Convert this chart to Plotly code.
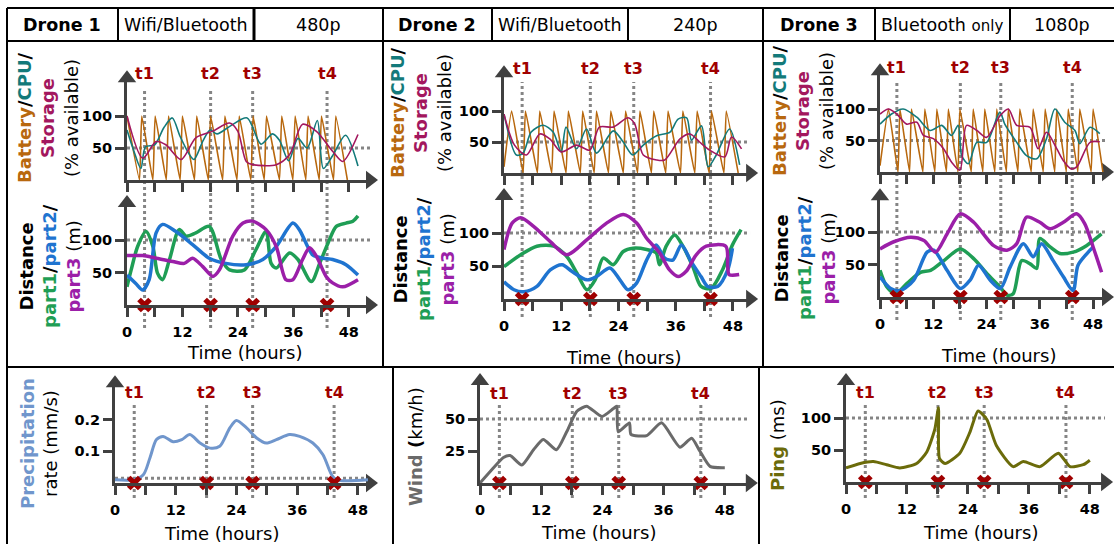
import plotly.graph_objects as go

W, H = 1114, 544
FONT = "DejaVu Sans"
AX = "#404040"
RED = "#a00000"
GRID = "#858585"
C_BAT = "#b8680e"
C_CPU = "#137a7a"
C_STO = "#a3175e"
C_P1 = "#1f9e55"
C_P2 = "#1f74d0"
C_P3 = "#9b1fa8"
C_PRE = "#7096cc"
C_WIND = "#6a6a6a"
C_PING = "#6b6b0a"

# ---------------- data ----------------
EVENT_T = [3.8, 18.1, 27.2, 43.3]
EVENT_LABELS = ["t1", "t2", "t3", "t4"]
HOUR_TICKS = [0, 6, 12, 18, 24, 30, 36, 42, 48]
HOUR_LABELS = ["0", "", "12", "", "24", "", "36", "", "48"]

# Battery sawtooth (hours, % available)
D1_BAT_T = [0, 2.7, 3.2, 5.6, 6.1, 8.5, 9.0, 11.5, 12.0, 14.6, 15.1, 17.6, 18.1, 20.7, 21.2, 23.8, 24.3,
            26.8, 27.3, 29.7, 30.2, 33.0, 33.5, 35.9, 36.4, 38.7, 39.2, 41.6, 42.1, 44.7, 45.2, 47.7]
D1_BAT = [100, 0, 100, 0, 100, 0, 100, 0, 100, 0, 100, 0, 100, 0, 100, 0, 100,
          0, 100, 0, 100, 0, 100, 0, 100, 0, 100, 0, 100, 0, 100, 0]
D2_BAT_T = [0, 1.6, 4.0, 4.5, 7.0, 7.5, 10.0, 10.5, 13.0, 13.5, 16.0, 16.5, 18.9, 19.4, 21.9, 22.4, 25.0, 25.5,
            28.0, 28.5, 30.9, 31.4, 33.9, 34.4, 37.0, 37.5, 40.0, 40.5, 43.0, 43.5, 46.1, 46.6, 49.1]
D2_BAT = [10, 100, 0, 100, 0, 100, 0, 100, 0, 100, 0, 100, 0, 100, 0, 100, 0, 100,
          0, 100, 0, 100, 0, 100, 0, 100, 0, 100, 0, 100, 0, 100, 0]
D3_BAT_T = [0, 1.9, 4.05, 4.5, 6.65, 7.1, 9.65, 10.1, 12.35, 12.8, 14.95, 15.4, 17.55, 18.0, 20.55, 21.0,
            23.15, 23.6, 25.85, 26.3, 28.45, 28.9, 31.05, 31.5, 34.05, 34.5, 36.75, 37.2, 39.35, 39.8,
            41.95, 42.4, 44.55, 45.0, 47.55, 48.0, 50.2]
D3_BAT = [10, 100, 0, 100, 0, 100, 0, 100, 0, 100, 0, 100, 0, 100, 0, 100,
          0, 100, 0, 100, 0, 100, 0, 100, 0, 100, 0, 100, 0, 100,
          0, 100, 0, 100, 0, 100, 0]

D1_CPU_T = [0, 1.5, 3.0, 4.0, 6.0, 8.0, 9.8, 11.5, 13.5, 14.5, 16.5, 18.0, 19.5, 22.5, 26.0, 29.0, 31.5,
            33.0, 35.0, 37.0, 39.0, 41.2, 42.5, 44.5, 47.3, 50.0]
D1_CPU = [78, 45, 18, 52, 55, 82, 97, 68, 40, 32, 62, 78, 72, 85, 97, 56, 72, 62, 30, 65, 50, 93, 18, 38, 70, 22]
D1_STO_T = [0, 3.4, 6.3, 8.4, 11.7, 14.9, 18.5, 22.2, 24.0, 25.8, 27.2, 32.3, 35.2, 38.0, 41.0, 44.5, 46.7, 50.0]
D1_STO = [100, 34, 60, 55, 32, 66, 76, 89, 76, 29, 24, 24, 40, 87, 76, 45, 29, 71]

D2_CPU_T = [0, 2.6, 4.0, 5.7, 8.2, 10.3, 12.0, 13.0, 15.2, 17.3, 19.4, 22.9, 25.0, 27.0, 29.2, 32.0, 34.8,
            36.5, 38.3, 39.3, 41.4, 42.8, 44.5, 47.3, 49.4]
D2_CPU = [95, 29, 32, 66, 77, 66, 34, 74, 39, 71, 32, 68, 50, 29, 45, 60, 66, 87, 89, 53, 76, 10, 29, 71, 13]
D2_STO_T = [0, 2.2, 4.7, 7.5, 9.6, 12.0, 15.2, 18.0, 20.0, 22.9, 26.0, 27.4, 29.2, 32.0, 33.7, 36.9, 39.0,
            41.0, 43.1, 46.3, 47.7, 49.8]
D2_STO = [95, 45, 29, 63, 55, 34, 45, 37, 74, 74, 89, 79, 29, 21, 21, 55, 63, 50, 37, 26, 58, 39]

D3_CPU_T = [0, 2.6, 5.2, 8.3, 11.3, 13.9, 16.1, 17.6, 18.4, 19.9, 21.8, 24.0, 27.0, 28.1, 30.8, 33.0, 35.3,
            37.5, 39.4, 41.6, 43.9, 45.0, 47.3, 49.5]
D3_CPU = [76, 92, 100, 87, 66, 74, 58, 74, 26, 13, 47, 47, 95, 76, 47, 26, 21, 53, 100, 79, 66, 45, 71, 61]
D3_STO_T = [0, 1.9, 3.8, 6.0, 8.3, 9.8, 12.0, 14.3, 16.1, 18.0, 19.5, 21.8, 24.0, 27.0, 28.9, 30.8, 33.8,
            35.6, 37.5, 39.8, 41.3, 43.1, 44.3, 47.3, 49.5]
D3_STO = [92, 100, 92, 76, 79, 58, 53, 37, 16, 3, 74, 66, 55, 89, 100, 74, 71, 37, 63, 37, 18, 5, 8, 47, 48]

# Distances (m)
D1_P1_T = [0, 0.9, 2.3, 4.1, 5.6, 6.6, 7.7, 9.2, 11.3, 12.8, 14.9, 17.8, 20.4, 22.2, 25.4, 27.9, 30.1, 31.2,
           32.3, 35.2, 37.0, 39.9, 41.7, 43.5, 45.3, 47.4, 48.9, 50.0]
D1_P1 = [28, 54, 90, 113, 90, 49, 39, 70, 116, 106, 111, 121, 70, 54, 54, 85, 113, 64, 57, 80, 70, 36, 64,
         95, 121, 126, 129, 137]
D1_P2_T = [0, 1.9, 3.4, 4.8, 6.3, 7.7, 10.6, 14.2, 17.8, 21.4, 25.8, 29.4, 32.3, 35.9, 37.3, 40.2, 42.4,
           44.5, 47.4, 50.0]
D1_P2 = [46, 33, 23, 39, 111, 124, 113, 93, 72, 64, 62, 70, 90, 126, 116, 77, 72, 70, 62, 46]
D1_P3_T = [0, 3.4, 6.3, 9.9, 12.4, 14.2, 16.4, 18.6, 20.0, 22.9, 25.1, 27.2, 30.1, 32.3, 34.4, 35.9, 38.0,
           39.5, 41.0, 43.1, 44.5, 46.7, 50.0]
D1_P3 = [76, 76, 72, 67, 64, 72, 59, 44, 54, 106, 126, 129, 116, 90, 39, 39, 70, 88, 75, 44, 34, 28, 39]

D2_P1_T = [0, 3.5, 6.9, 10.4, 13.2, 15.3, 17.4, 19.1, 20.8, 22.9, 25.0, 27.1, 29.9, 31.9, 32.6, 34.0, 35.8,
           37.5, 39.6, 41.3, 43.4, 45.8, 47.9, 49.7]
D2_P1 = [49, 67, 80, 80, 64, 39, 14, 29, 62, 52, 72, 77, 75, 70, 52, 80, 97, 80, 49, 19, 16, 44, 82, 105]
D2_P2_T = [0, 2.1, 4.2, 6.9, 9.7, 12.2, 14.2, 17.4, 19.4, 22.2, 24.3, 26.0, 27.8, 29.9, 31.9, 33.7, 35.4,
           37.2, 39.2, 41.3, 42.7, 44.8, 46.9, 47.9]
D2_P2 = [26, 14, 11, 19, 44, 52, 42, 29, 34, 47, 29, 14, 24, 59, 82, 62, 59, 82, 57, 34, 19, 19, 44, 77]
D2_P3_T = [0, 1.7, 3.5, 6.2, 9.7, 13.2, 17.4, 21.5, 25.0, 27.8, 29.9, 32.6, 34.7, 36.5, 38.2, 40.3, 42.4,
           46.5, 46.9, 47.2, 49.3]
D2_P3 = [75, 115, 123, 110, 87, 67, 90, 115, 128, 115, 92, 70, 44, 34, 42, 67, 80, 80, 49, 37, 37]

D3_P1_T = [0, 1.6, 3.5, 6.1, 9.1, 11.4, 14.4, 18.1, 21.1, 24.1, 27.1, 28.6, 30.0, 31.9, 33.8, 35.3, 36.0,
           38.3, 40.5, 43.5, 46.5, 49.9]
D3_P1 = [41, 15, 5, 21, 38, 41, 56, 74, 59, 36, 15, 3, 5, 56, 51, 44, 90, 77, 67, 69, 79, 97]
D3_P2_T = [0, 2.4, 4.6, 7.6, 10.6, 12.1, 15.1, 18.1, 20.3, 22.2, 24.8, 27.1, 29.3, 32.3, 34.5, 36.4, 39.0,
           41.3, 43.5, 44.6, 47.3, 48.0]
D3_P2 = [31, 13, 10, 26, 69, 72, 41, 13, 26, 49, 26, 13, 46, 82, 62, 82, 56, 31, 10, 49, 72, 77]
D3_P3_T = [0, 3.1, 6.9, 9.9, 12.5, 15.1, 18.1, 21.1, 25.6, 28.6, 30.8, 33.0, 36.0, 38.3, 41.3, 44.3, 46.1,
           48.0, 49.9]
D3_P3 = [74, 85, 92, 87, 69, 97, 128, 115, 79, 72, 82, 123, 115, 105, 115, 128, 113, 77, 38]

# Environment
PRE_T = [0, 3.6, 5.6, 6.9, 8.2, 9.5, 11.5, 13.2, 14.8, 16.8, 18.8, 20.7, 22.7, 24.0, 26.0, 28.0, 29.9,
         31.9, 34.5, 36.5, 39.1, 41.1, 42.8, 43.8, 50.0]
PRE = [0.01, 0.01, 0.026, 0.079, 0.137, 0.147, 0.13, 0.137, 0.153, 0.126, 0.11, 0.116, 0.174, 0.197,
       0.174, 0.142, 0.126, 0.137, 0.153, 0.147, 0.126, 0.089, 0.026, 0.01, 0.01]
PRE_REF = 0.015
WIND_T = [0, 2.0, 4.6, 5.9, 8.2, 10.5, 12.4, 15.0, 17.0, 19.0, 20.9, 23.9, 26.1, 26.8, 27.1, 29.3, 29.6,
          32.7, 35.6, 39.2, 41.5, 43.1, 45.1, 48.0]
WIND = [0, 9, 20, 21.5, 14, 26, 34, 26, 40, 56, 60, 52, 58, 60, 40, 47, 38, 37, 47, 28, 35, 25, 13, 12]
PING_T = [0, 2.8, 5.4, 8.0, 10.6, 13.9, 15.9, 17.5, 18.2, 18.4, 19.5, 22.4, 24.4, 26.0, 27.7, 29.6, 32.9,
          34.9, 38.2, 41.8, 44.1, 46.7, 48.0]
PING = [22, 29, 32, 27, 22, 29, 47, 83, 116, 37, 29, 45, 78, 111, 98, 57, 24, 32, 24, 45, 24, 27, 34]


# ---------------- helpers ----------------
def px(x):
    return x / W


def py(y):
    return 1 - y / H


fig = go.Figure()
layout = dict(template="none", width=W, height=H, margin=dict(l=0, r=0, t=0, b=0, autoexpand=False),
              paper_bgcolor="white", plot_bgcolor="rgba(0,0,0,0)", showlegend=False, hovermode=False,
              font=dict(family=FONT, color="black"))
shapes = []
annotations = []


def sfx(i):
    return "" if i == 1 else str(i)


def make_axes(i, g, ytv, ytt, xlabels):
    s = sfx(i)
    xl, xr = g["x0"], g["x0"] + g["xmax"] * g["pxh"]
    yb, yt = g["y0"], g["y0"] - g["ymax"] * g["pxu"]
    common = dict(showline=True, linecolor=AX, linewidth=3, ticks="outside", ticklen=9, tickwidth=3,
                  tickcolor=AX, showgrid=False, zeroline=False, fixedrange=True, automargin=False,
                  tickfont=dict(family=FONT, size=14.5, color="black", weight="bold"))
    layout["xaxis" + s] = dict(domain=[px(xl), px(xr)], anchor="y" + s, range=[0, g["xmax"]],
                               tickvals=HOUR_TICKS, ticklabelstandoff=3,
                               ticktext=HOUR_LABELS if xlabels else [""] * len(HOUR_TICKS), **common)
    layout["yaxis" + s] = dict(domain=[py(yb), py(yt)], anchor="x" + s, range=[0, g["ymax"]],
                               tickvals=ytv, ticktext=ytt, **common)
    # arrow heads
    fig.add_trace(go.Scatter(x=[g["xmax"]], y=[0], mode="markers", cliponaxis=False, hoverinfo="skip",
                             marker=dict(symbol="triangle-right", size=16, color=AX),
                             xaxis="x" + s, yaxis="y" + s))
    fig.add_trace(go.Scatter(x=[0], y=[g["ymax"]], mode="markers", cliponaxis=False, hoverinfo="skip",
                             marker=dict(symbol="triangle-up", size=16, color=AX),
                             xaxis="x" + s, yaxis="y" + s))


def line(i, xs, ys, color, width, smoothing=0.8, shape="spline"):
    s = sfx(i)
    fig.add_trace(go.Scatter(x=xs, y=ys, mode="lines", hoverinfo="skip",
                             line=dict(color=color, width=width, shape=shape,
                                       smoothing=smoothing if shape == "spline" else None),
                             xaxis="x" + s, yaxis="y" + s))


def hdot(i, g, yv):
    s = sfx(i)
    shapes.append(dict(type="line", xref="x" + s, yref="y" + s, x0=0, x1=g["xmax"], y0=yv, y1=yv,
                       line=dict(color=GRID, width=3, dash="dot"), layer="below"))


def events(i, top_px, bot_px, label_px, marks_on):
    s = sfx(i)
    for t, lab in zip(EVENT_T, EVENT_LABELS):
        shapes.append(dict(type="line", xref="x" + s, yref="paper", x0=t, x1=t, y0=py(bot_px), y1=py(top_px),
                           line=dict(color=GRID, width=3, dash="dot"), layer="below"))
        annotations.append(dict(xref="x" + s, yref="paper", x=t, y=py(label_px), text="<b>%s</b>" % lab,
                                showarrow=False, xanchor="center", yanchor="middle",
                                font=dict(family=FONT, size=16, color=RED)))
    sm = sfx(marks_on)
    fig.add_trace(go.Scatter(x=EVENT_T, y=[0] * len(EVENT_T), mode="markers", cliponaxis=False,
                             hoverinfo="skip", marker=dict(symbol="x", size=13, color=RED),
                             xaxis="x" + sm, yaxis="y" + sm))


def text(xp, yp, t, size=18, angle=0):
    annotations.append(dict(xref="paper", yref="paper", x=px(xp), y=py(yp), text=t, showarrow=False,
                            xanchor="center", yanchor="middle", textangle=angle,
                            font=dict(family=FONT, size=size, color="black")))


def col(c, t):
    return "<span style='color:%s'>%s</span>" % (c, t)


# ---------------- panels geometry ----------------
G = {
    1: dict(x0=127, pxh=4.62, xmax=52.6, y0=180, pxu=0.64, ymax=159),
    2: dict(x0=127, pxh=4.62, xmax=52.6, y0=305, pxu=0.65, ymax=157),
    3: dict(x0=504, pxh=4.77, xmax=51.6, y0=173, pxu=0.62, ymax=161),
    4: dict(x0=504, pxh=4.77, xmax=51.6, y0=299, pxu=0.66, ymax=156),
    5: dict(x0=880, pxh=4.44, xmax=50.9, y0=172, pxu=0.63, ymax=160),
    6: dict(x0=880, pxh=4.44, xmax=50.9, y0=297, pxu=0.65, ymax=155),
    7: dict(x0=115, pxh=5.06, xmax=50.4, y0=483, pxu=317, ymax=0.315),
    8: dict(x0=480, pxh=5.1, xmax=52.9, y0=483, pxu=1.28, ymax=79.7),
    9: dict(x0=846, pxh=5.08, xmax=51.0, y0=482, pxu=0.64, ymax=158),
}

drones = [
    (1, 2, D1_BAT_T, D1_BAT, D1_CPU_T, D1_CPU, D1_STO_T, D1_STO, D1_P1_T, D1_P1, D1_P2_T, D1_P2, D1_P3_T, D1_P3),
    (3, 4, D2_BAT_T, D2_BAT, D2_CPU_T, D2_CPU, D2_STO_T, D2_STO, D2_P1_T, D2_P1, D2_P2_T, D2_P2, D2_P3_T, D2_P3),
    (5, 6, D3_BAT_T, D3_BAT, D3_CPU_T, D3_CPU, D3_STO_T, D3_STO, D3_P1_T, D3_P1, D3_P2_T, D3_P2, D3_P3_T, D3_P3),
]
for (ir, idd, bt, b, ct, c, st, s_, p1t, p1, p2t, p2, p3t, p3) in drones:
    make_axes(ir, G[ir], [50, 100], ["50", "100"], False)
    make_axes(idd, G[idd], [50, 100], ["50", "100"], True)
    hdot(ir, G[ir], 50)
    hdot(idd, G[idd], 100)
    line(ir, bt, b, C_BAT, 1.6, smoothing=0.35)
    line(ir, ct, c, C_CPU, 1.6)
    line(ir, st, s_, C_STO, 1.6)
    line(idd, p1t, p1, C_P1, 3.5)
    line(idd, p2t, p2, C_P2, 3.5)
    line(idd, p3t, p3, C_P3, 3.5)

events(2, 88, 328, 74, 2)
events(4, 82, 317, 68, 4)
events(6, 80, 320, 67, 6)

make_axes(7, G[7], [0.1, 0.2], ["0.1", "0.2"], True)
make_axes(8, G[8], [25, 50], ["25", "50"], True)
make_axes(9, G[9], [50, 100], ["50", "100"], True)
hdot(7, G[7], PRE_REF)
hdot(8, G[8], 50)
hdot(9, G[9], 100)
line(7, PRE_T, PRE, C_PRE, 3)
line(8, WIND_T, WIND, C_WIND, 3, smoothing=0.6)
line(9, PING_T, PING, C_PING, 3, smoothing=0.6)
events(7, 405, 498, 392, 7)
events(8, 404, 498, 393, 8)
events(9, 405, 498, 392, 9)

# ---------------- axis titles ----------------
res_title = ("<b>" + col(C_BAT, "Battery") + "/" + col(C_CPU, "CPU") + "/</b><br>"
             "<b>" + col(C_STO, "Storage") + "</b><br>(% available)")
dist_title = ("<b>Distance</b><br><b>" + col(C_P1, "part1") + "/" + col(C_P2, "part2") + "/</b><br>"
              "<b>" + col(C_P3, "part3") + "</b> (m)")
text(48, 118, res_title, angle=-90)
text(50, 266, dist_title, angle=-90)
text(421, 113, res_title, angle=-90)
text(424, 259, dist_title, angle=-90)
text(803, 111, res_title, angle=-90)
text(805, 258, dist_title, angle=-90)
text(39, 444, "<b>" + col(C_PRE, "Precipitation") + "</b><br>rate (mm/s)", angle=-90)
text(415, 447, "<b>" + col(C_WIND, "Wind") + " (</b>km/h)", angle=-90)
text(777, 445, "<b>" + col(C_PING, "Ping") + "</b> (ms)", angle=-90)

for xp, yp in [(244, 352), (623, 357), (998, 355), (221, 533), (598, 532), (980, 532)]:
    text(xp, yp, "Time (hours)")

# ---------------- header table ----------------
HEADER_Y = 24.5
text(62, HEADER_Y, "<b>Drone 1</b>", size=17.5)
text(186, HEADER_Y, "Wifi/Bluetooth", size=17.5)
text(318, HEADER_Y, "480p", size=17.5)
text(437, HEADER_Y, "<b>Drone 2</b>", size=17.5)
text(560, HEADER_Y, "Wifi/Bluetooth", size=17.5)
text(695, HEADER_Y, "240p", size=17.5)
text(819, HEADER_Y, "<b>Drone 3</b>", size=17.5)
text(942, HEADER_Y, "Bluetooth <span style='font-size:15px'>only</span>", size=17.5)
text(1062, HEADER_Y, "1080p", size=17.5)


def pline(x0, y0, x1, y1, w=2):
    shapes.append(dict(type="line", xref="paper", yref="paper", x0=px(x0), y0=py(y0), x1=px(x1), y1=py(y1),
                       line=dict(color="black", width=w)))


pline(7, 8, 1114, 8)
pline(7, 41, 1114, 41)
pline(7, 8, 7, 544)
pline(383, 8, 383, 367)
pline(763, 8, 763, 367)
for xv in [118, 492, 628, 875, 1010]:
    pline(xv, 8, xv, 41)
pline(254, 8, 254, 41, 3)
pline(7, 367, 1114, 367)
pline(393, 367, 393, 544)
pline(759, 367, 759, 544)

layout["shapes"] = shapes
layout["annotations"] = annotations
fig.update_layout(**layout)
fig.write_html("out.html", config={"displayModeBar": False, "staticPlot": True},
               post_script="document.body.style.margin='0';document.body.style.overflow='hidden';")
